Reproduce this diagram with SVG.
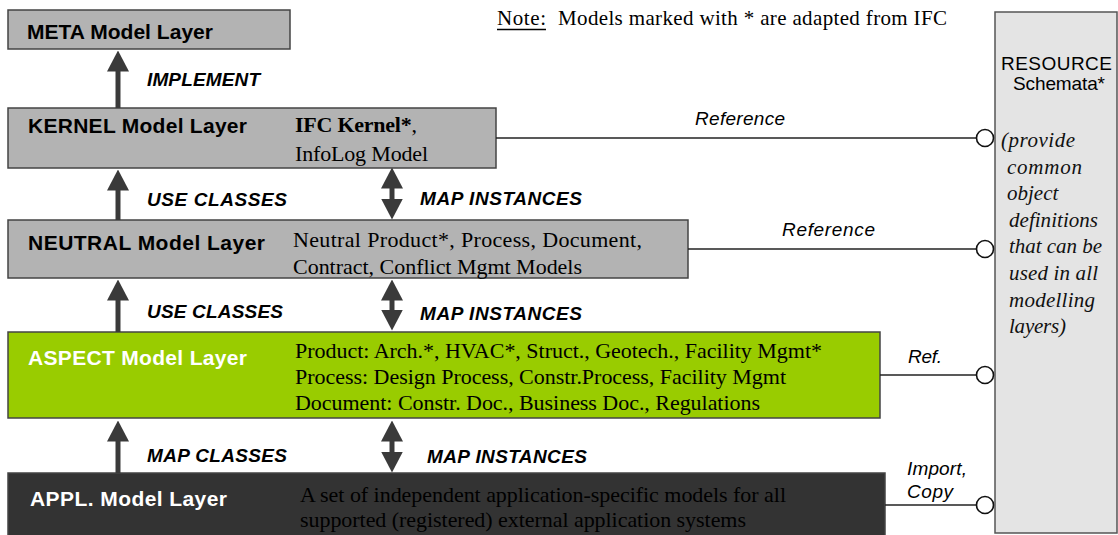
<svg xmlns="http://www.w3.org/2000/svg" width="1118" height="535" viewBox="0 0 1118 535">
<style>
.box{stroke:#444;stroke-width:1.5}
.grey{fill:#b3b3b3}
.green{fill:#99cc00}
.dark{fill:#333333}
.res{fill:#e4e4e4;stroke:#555;stroke-width:1.5}
.title{font-family:"Liberation Sans",Arial,sans-serif;font-weight:bold;font-size:21px;fill:#000}
.wt{fill:#fff}
.lbl{font-family:"Liberation Sans",Arial,sans-serif;font-weight:bold;font-style:italic;font-size:19px;fill:#000}
.ref{font-family:"Liberation Sans",Arial,sans-serif;font-style:italic;font-size:19px;fill:#000}
.ser{font-family:"Liberation Serif","Times New Roman",serif;font-size:22px;fill:#000}
.note{font-family:"Liberation Serif","Times New Roman",serif;font-size:21px;fill:#000}
.seri{font-family:"Liberation Serif","Times New Roman",serif;font-style:italic;font-size:21px;fill:#111}
.rs{font-family:"Liberation Sans",Arial,sans-serif;font-size:19px;fill:#000}
.arr{stroke:#3a3a3a;stroke-width:5;fill:none}
.conn{stroke:#222;stroke-width:1.6;fill:none}
.lolly{fill:#fff;stroke:#111;stroke-width:1.6}
</style>
<defs>
<marker id="head" markerUnits="userSpaceOnUse" viewBox="0 0 21 22" markerWidth="21" markerHeight="22" refX="0.5" refY="11" orient="auto-start-reverse">
<path d="M0,0 L21,11 L0,22 z" fill="#3a3a3a"/>
</marker>
</defs>

<g id="note">
<text class="note" x="497" y="25" textLength="49">Note:</text>
<line x1="497" y1="29.5" x2="546" y2="29.5" stroke="#000" stroke-width="1.3"/>
<text class="note" x="558" y="25" textLength="389">Models marked with * are adapted from IFC</text>
</g>

<g id="resource">
<rect class="res" x="995" y="12" width="122" height="521"/>
<text class="rs" x="1001" y="70" textLength="111">RESOURCE</text>
<text class="rs" x="1013" y="90" textLength="92">Schemata*</text>
<text class="seri" x="1001" y="147" textLength="74">(provide</text>
<text class="seri" x="1007" y="173.5" textLength="75">common</text>
<text class="seri" x="1007" y="200">object</text>
<text class="seri" x="1009" y="227" textLength="89">definitions</text>
<text class="seri" x="1009" y="253" textLength="93">that can be</text>
<text class="seri" x="1009" y="280" textLength="89">used in all</text>
<text class="seri" x="1009" y="307" textLength="86">modelling</text>
<text class="seri" x="1009" y="333" textLength="57">layers)</text>
</g>

<g id="meta">
<rect class="box grey" x="8" y="10" width="282" height="39"/>
<text class="title" x="27" y="39" textLength="186">META Model Layer</text>
</g>

<g id="kernel">
<rect class="box grey" x="8" y="108" width="488" height="60"/>
<text class="title" x="28" y="133" textLength="219">KERNEL Model Layer</text>
<text class="ser" x="295" y="132" textLength="122"><tspan font-weight="bold">IFC Kernel*</tspan>,</text>
<text class="ser" x="295" y="161" textLength="133">InfoLog Model</text>
</g>

<g id="neutral">
<rect class="box grey" x="8" y="220" width="680" height="58"/>
<text class="title" x="28" y="250" textLength="237">NEUTRAL Model Layer</text>
<text class="ser" x="293" y="247" textLength="349">Neutral Product*, Process, Document,</text>
<text class="ser" x="293" y="274" textLength="289">Contract, Conflict Mgmt Models</text>
</g>

<g id="aspect">
<rect class="box green" x="8" y="332" width="872" height="86"/>
<text class="title wt" x="28" y="365" textLength="219">ASPECT Model Layer</text>
<text class="ser wt" x="295" y="358" textLength="527">Product: Arch.*, HVAC*, Struct., Geotech., Facility Mgmt*</text>
<text class="ser wt" x="295" y="384" textLength="491">Process: Design Process, Constr.Process, Facility Mgmt</text>
<text class="ser wt" x="295" y="410" textLength="465">Document: Constr. Doc., Business Doc., Regulations</text>
</g>

<g id="appl">
<rect class="box dark" x="8" y="473" width="877" height="70" stroke="#666"/>
<text class="title wt" x="30" y="506" textLength="197">APPL. Model Layer</text>
<text class="ser wt" x="300" y="502" textLength="486">A set of independent application-specific models for all</text>
<text class="ser wt" x="300" y="527" textLength="446">supported (registered) external application systems</text>
</g>

<g id="connectors">
<line class="arr" x1="118" y1="108" x2="118" y2="71" marker-end="url(#head)"/>
<line class="arr" x1="118" y1="220" x2="118" y2="190" marker-end="url(#head)"/>
<line class="arr" x1="118" y1="332" x2="118" y2="300" marker-end="url(#head)"/>
<line class="arr" x1="118" y1="473" x2="118" y2="441" marker-end="url(#head)"/>
<line class="arr" x1="392" y1="188" x2="392" y2="199" marker-start="url(#head)" marker-end="url(#head)"/>
<line class="arr" x1="392" y1="300" x2="392" y2="310" marker-start="url(#head)" marker-end="url(#head)"/>
<line class="arr" x1="392" y1="441" x2="392" y2="452" marker-start="url(#head)" marker-end="url(#head)"/>

<line class="conn" x1="496" y1="138" x2="976.5" y2="138"/>
<circle class="lolly" cx="985" cy="138" r="8.5"/>
<line class="conn" x1="688" y1="249" x2="976.5" y2="249"/>
<circle class="lolly" cx="985" cy="249" r="8.5"/>
<line class="conn" x1="880" y1="375" x2="976.5" y2="375"/>
<circle class="lolly" cx="985" cy="375" r="8.5"/>
<line class="conn" x1="885" y1="505" x2="976.5" y2="505"/>
<circle class="lolly" cx="985" cy="505" r="8.5"/>

<text class="lbl" x="147" y="86" textLength="113">IMPLEMENT</text>
<text class="lbl" x="147" y="206" textLength="140">USE CLASSES</text>
<text class="lbl" x="420" y="205" textLength="162">MAP INSTANCES</text>
<text class="lbl" x="147" y="318" textLength="136">USE CLASSES</text>
<text class="lbl" x="420" y="320" textLength="162">MAP INSTANCES</text>
<text class="lbl" x="147" y="462" textLength="140">MAP CLASSES</text>
<text class="lbl" x="427" y="463" textLength="160">MAP INSTANCES</text>

<text class="ref" x="695" y="125" textLength="90">Reference</text>
<text class="ref" x="782" y="236" textLength="93">Reference</text>
<text class="ref" x="908" y="363" textLength="34">Ref.</text>
<text class="ref" x="907" y="475" textLength="60">Import,</text>
<text class="ref" x="907" y="498" textLength="46">Copy</text>
</g>
</svg>
